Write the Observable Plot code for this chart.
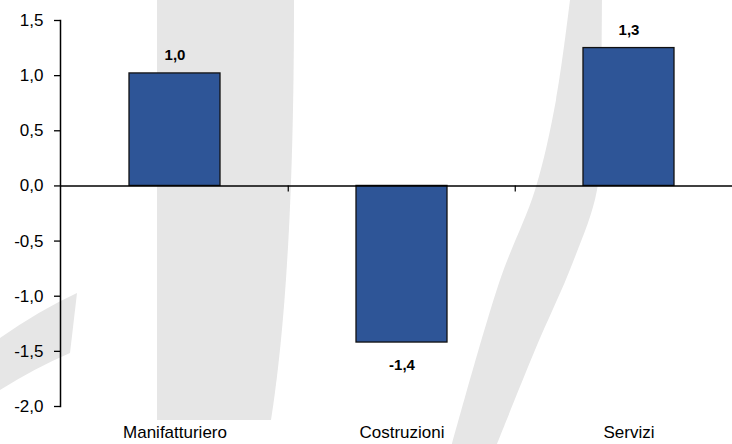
<!DOCTYPE html>
<html>
<head>
<meta charset="utf-8">
<script src="https://cdn.jsdelivr.net/npm/d3@7"></script>
<script src="https://cdn.jsdelivr.net/npm/@observablehq/plot@0.6"></script>
<style>
  html, body { margin: 0; padding: 0; background: #fff; overflow: hidden; }
  #wrap { position: relative; width: 732px; height: 444px; }
  #wm { position: absolute; left: 0; top: 0; z-index: 0; }
  #chart { position: absolute; left: 0; top: 0; z-index: 1; }
</style>
</head>
<body>
<div id="wrap">
  <svg id="wm" width="732" height="444" viewBox="0 0 732 444">
    <g fill="#e6e6e6">
      <path d="M157,0 L294,0 C294,200 285,330 271,420 L157,420 Z"/>
      <path d="M0,338 Q40,310 77,293 L70,353 Q35,368 0,390 Z"/>
      <path id="arc"/>
    </g>
  </svg>
  <div id="chart"></div>
</div>
<script>
const categories = ["Manifatturiero", "Costruzioni", "Servizi"];
const values = [1.02, -1.42, 1.25];
const valueLabels = ["1,0", "-1,4", "1,3"];
const yTicks = [-2, -1.5, -1, -0.5, 0, 0.5, 1, 1.5];

const data = categories.map((c, i) => ({cat: c, value: values[i], label: valueLabels[i]}));
const fmt = d => d.toFixed(1).replace(".", ",");

// background watermark decoration (not data)
const arcOuter = [[602,0],[601,100],[597,190],[573,262],[535,350],[497,444]];
const arcInner = [[452,444],[500,280],[535,190],[556,100],[570,0]];
const ln = d3.line().curve(d3.curveCatmullRom);
document.getElementById("arc").setAttribute("d", ln(arcOuter) + "L" + ln(arcInner).slice(1) + "Z");

const chart = Plot.plot({
  width: 732,
  height: 444,
  marginTop: 20,
  marginBottom: 38,
  marginLeft: 60,
  marginRight: 0,
  style: {background: "transparent", fontFamily: "Arial, 'Liberation Sans', sans-serif", fontSize: "17px", color: "#000", overflow: "hidden"},
  x: {domain: categories, range: [60, 742.5], paddingInner: 0.6, paddingOuter: 0.3, label: null},
  y: {domain: [-2, 1.5], label: null},
  marks: [
    Plot.frame({anchor: "left", stroke: "#000", strokeWidth: 1.5, strokeOpacity: 1}),
    Plot.axisY({ticks: yTicks, tickSize: 6, tickPadding: 11, tickFormat: fmt, fontSize: 17, stroke: "#000", strokeWidth: 1.3, strokeOpacity: 1, label: null}),
    Plot.axisX({tickSize: 0, tickPadding: 19, fontSize: 17, label: null}),
    Plot.barY(data, {x: "cat", y: "value", fill: "#2E5597", stroke: "#111", strokeWidth: 1.3}),
    Plot.ruleY([0], {stroke: "#000", strokeWidth: 1.5}),
    Plot.ruleX(categories.slice(1), {x: d => d, dx: -113.75, y1: 0, y2: -0.055, stroke: "#000", strokeWidth: 1.2}),
    Plot.text(data.filter(d => d.value >= 0), {x: "cat", y: "value", text: "label", lineAnchor: "bottom", dy: -13, fontWeight: "bold", fontSize: 15, fill: "#000"}),
    Plot.text(data.filter(d => d.value < 0), {x: "cat", y: "value", text: "label", lineAnchor: "top", dy: 17, fontWeight: "bold", fontSize: 15, fill: "#000"})
  ]
});
document.getElementById("chart").appendChild(chart);
</script>
</body>
</html>
